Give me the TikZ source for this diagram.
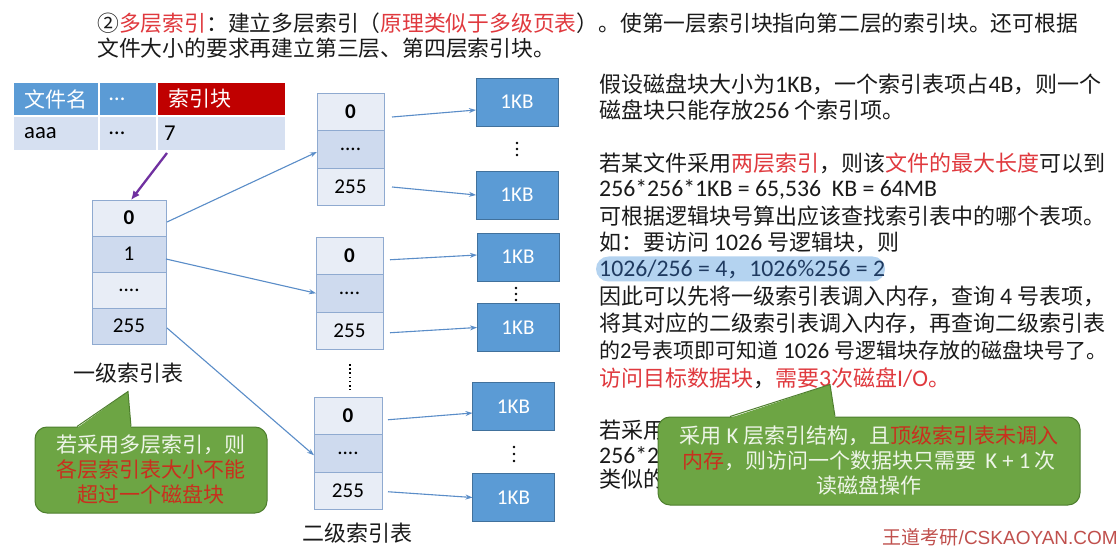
\documentclass[tikz,border=0pt]{standalone}
\usepackage{fontspec}
\setmainfont{Noto Sans CJK SC}
\newfontfamily\lat{Carlito}[Scale=1.08]
\newfontfamily\wmf{Liberation Sans}
\usetikzlibrary{arrows.meta,shapes.misc}
\newcommand\latn[1]{{\lat #1}}
\definecolor{hdrblue}{HTML}{5B9BD5}
\definecolor{hdrred}{HTML}{C00000}
\definecolor{rowlt}{HTML}{D6E0F1}
\definecolor{celllt}{HTML}{E8EDF6}
\definecolor{celldk}{HTML}{CEDAEE}
\definecolor{cellbd}{HTML}{8FAAD0}
\definecolor{blk}{HTML}{5B9BD5}
\definecolor{blkbd}{HTML}{41719C}
\definecolor{arr}{HTML}{5A8DC8}
\definecolor{txtred}{HTML}{E0393E}
\definecolor{bodyc}{HTML}{1A1A1A}
\definecolor{grn}{HTML}{6DA544}
\definecolor{grnbd}{HTML}{4E7F2E}
\definecolor{callred}{HTML}{C8301E}
\definecolor{calltxt}{HTML}{EEF5E8}
\definecolor{wmred}{HTML}{C0504D}
\definecolor{purp}{HTML}{7030A0}
\definecolor{hl}{HTML}{B4D3F0}
\definecolor{hltxt}{HTML}{1F3A60}
\begin{document}
\begin{tikzpicture}[x=1pt,y=-1pt,
  cellbox/.style={draw=cellbd, line width=0.8pt, inner sep=0pt, outer sep=0pt, font=\lat\fontsize{19.5}{19.5}\selectfont, text=black},
  blkbox/.style={draw=blkbd, fill=blk, line width=0.8pt, minimum width=82pt, minimum height=48pt, inner sep=0pt, outer sep=0pt, font=\lat\fontsize{19.5}{19.5}\selectfont, text=white},
  conn/.style={draw=arr, line width=1.1pt, -{Stealth[length=7pt,width=5pt]}},
  tcell/.style={draw=white, line width=2pt, inner sep=0pt, outer sep=0pt},
  ttext/.style={anchor=west, inner sep=0pt, font=\fontsize{21}{21}\selectfont},
  body/.style={anchor=west, inner sep=0pt, font=\fontsize{22}{26}\selectfont, text=bodyc},
  callbox/.style={draw=grnbd, fill=grn, line width=1pt, rounded corners=12pt, inner sep=0pt, align=center, text=calltxt, font=\fontsize{21}{25}\selectfont},
  lbl/.style={inner sep=0pt, font=\fontsize{22}{22}\selectfont, text=bodyc}
]
\useasboundingbox (0,0) rectangle (1120,548);
\fill[white] (0,0) rectangle (1120,548);

% title
\node[body, font=\fontsize{21.8}{26}\selectfont] (t1) at (97,23) {②\textcolor{txtred}{多层索引}：建立多层索引（\textcolor{txtred}{原理类似于多级页表}）。使第一层索引块指向第二层的索引块。还可根据};
\node[body, font=\fontsize{21.8}{26}\selectfont] (t2) at (97,48) {文件大小的要求再建立第三层、第四层索引块。};

% directory table
\node[tcell, fill=hdrblue, minimum width=86pt, minimum height=34pt] (h1) at (56,99) {};
\node[tcell, fill=hdrblue, minimum width=58pt, minimum height=34pt] (h2) at (128,99) {};
\node[tcell, fill=hdrred, minimum width=129pt, minimum height=34pt] (h3) at (221.5,99) {};
\node[tcell, fill=rowlt, minimum width=86pt, minimum height=35pt] (r1) at (56,133.5) {};
\node[tcell, fill=rowlt, minimum width=58pt, minimum height=35pt] (r2) at (128,133.5) {};
\node[tcell, fill=rowlt, minimum width=129pt, minimum height=35pt] (r3) at (221.5,133.5) {};
\node[ttext, text=white] (h1t) at ([xshift=11pt]h1.west) {文件名};
\node[ttext, text=white, font=\lat\fontsize{21}{21}\selectfont] (h2t) at ([xshift=10pt]h2.west) {…};
\node[ttext, text=white] (h3t) at ([xshift=11pt]h3.west) {索引块};
\node[ttext, text=black, font=\lat\fontsize{21}{21}\selectfont] (r1t) at ([xshift=11pt]r1.west) {aaa};
\node[ttext, text=black, font=\lat\fontsize{21}{21}\selectfont] (r2t) at ([xshift=10pt]r2.west) {…};
\node[ttext, text=black, font=\lat\fontsize{21}{21}\selectfont] (r3t) at ([xshift=7pt]r3.west) {7};

% first level table
\node[cellbox, fill=celllt, minimum width=74pt, minimum height=36pt] (p0) at (129,218) {\bfseries 0};
\node[cellbox, fill=celldk, minimum width=74pt, minimum height=36pt] (p1) at (129,254) {1};
\node[cellbox, fill=celllt, minimum width=74pt, minimum height=36pt] (p2) at (129,290) {....};
\node[cellbox, fill=celldk, minimum width=74pt, minimum height=36pt] (p3) at (129,326) {255};
\node[lbl] (l1) at (128,373) {一级索引表};

% second level tables
\node[cellbox, fill=celllt, minimum width=67pt, minimum height=37.5pt] (a0) at (350.5,112) {\bfseries 0};
\node[cellbox, fill=celldk, minimum width=67pt, minimum height=37.5pt] (a1) at (350.5,149.5) {....};
\node[cellbox, fill=celllt, minimum width=67pt, minimum height=37.5pt] (a2) at (350.5,187) {255};
\node[cellbox, fill=celllt, minimum width=67pt, minimum height=37.5pt] (b0) at (349.5,255.75) {\bfseries 0};
\node[cellbox, fill=celldk, minimum width=67pt, minimum height=37.5pt] (b1) at (349.5,293.25) {....};
\node[cellbox, fill=celllt, minimum width=67pt, minimum height=37.5pt] (b2) at (349.5,330.75) {255};
\node[cellbox, fill=celllt, minimum width=68pt, minimum height=37.5pt] (c0) at (348,415.75) {\bfseries 0};
\node[cellbox, fill=celldk, minimum width=68pt, minimum height=37.5pt] (c1) at (348,453.25) {....};
\node[cellbox, fill=celllt, minimum width=68pt, minimum height=37.5pt] (c2) at (348,490.75) {255};
\node[lbl] (l2) at (357,533) {二级索引表};
\draw[dash pattern=on 1.6pt off 2.6pt, line width=2pt] (350,364) -- (350,390);

% data blocks
\node[blkbox] (A0) at (517,102) {1KB};
\node[blkbox] (A1) at (517,195) {1KB};
\node[blkbox] (B0) at (518,257) {1KB};
\node[blkbox] (B1) at (518,327.5) {1KB};
\node[blkbox] (C0) at (513.5,406.5) {1KB};
\node[blkbox] (C1) at (513.5,497.5) {1KB};
\foreach \yy in {143,149,155} \fill (517,\yy) circle[radius=1.3pt];
\foreach \yy in {288,294,300} \fill (516,\yy) circle[radius=1.3pt];
\foreach \yy in {447,454,461} \fill (514,\yy) circle[radius=1.3pt];

% connectors
\draw[draw=purp, line width=2.3pt, -{Latex[length=9pt,width=8pt]}] ([shift={(10,2)}]r3.south west) -- ([shift={(2,0)}]p0.north);
\draw[conn] ([shift={(1,4)}]p0.east) -- ([shift={(0,2.5)}]a1.west);
\draw[conn] ([shift={(0,5)}]p1.east) -- (b1.west);
\draw[conn] ([shift={(1,2)}]p3.east) -- ([shift={(0,2)}]c1.west);
\draw[conn] ([shift={(8,5)}]a0.east) -- ([shift={(0,8)}]A0.west);
\draw[conn] ([shift={(8,0)}]a2.east) -- (A1.west);
\draw[conn] ([shift={(7,4)}]b0.east) -- ([shift={(0,-2)}]B0.west);
\draw[conn] ([shift={(7,2)}]b2.east) -- (B1.west);
\draw[conn] ([shift={(6,4)}]c0.east) -- ([shift={(0,6.5)}]C0.west);
\draw[conn] ([shift={(6,1)}]c2.east) -- (C1.west);

% right text
\node[body] (L1) at (599,84) {假设磁盘块大小为\latn{1KB}，一个索引表项占\latn{4B}，则一个};
\node[body] (L2) at (599,110) {磁盘块只能存放\latn{256} 个索引项。};
\node[body] (L3) at (599,163) {若某文件采用\textcolor{txtred}{两层索引}，则该\textcolor{txtred}{文件的最大长度}可以到};
\node[body] (L4) at (599,190) {\latn{256*256*1KB = 65,536 \ KB = 64MB}};
\node[body] (L5) at (599,216) {可根据逻辑块号算出应该查找索引表中的哪个表项。};
\node[body] (L6) at (599,242) {如：要访问 \latn{1026} 号逻辑块，则};
\node[rounded rectangle, fill=hl, minimum width=289pt, minimum height=25pt, inner sep=0pt] (hlt) at (740.5,269) {};
\node[body, text=hltxt] (L7) at (599,269) {\latn{1026/256 = 4}，\latn{1026\%256 = 2}};
\node[body] (L8) at (599,296) {因此可以先将一级索引表调入内存，查询 \latn{4} 号表项，};
\node[body] (L9) at (599,323) {将其对应的二级索引表调入内存，再查询二级索引表};
\node[body, font=\fontsize{21}{26}\selectfont] (L10) at (599,350) {的\latn{2}号表项即可知道 \latn{1026} 号逻辑块存放的磁盘块号了。};
\node[body] (L11) at (599,378) {\textcolor{txtred}{访问目标数据块}，\textcolor{txtred}{需要\latn{3}次磁盘\latn{I/O}。}};
\node[body] (L12) at (599,430) {若采用};
\node[body] (L13) at (599,455) {\latn{256*25}};
\node[body] (L14) at (599,479) {类似的};

% left callout
\node[callbox, minimum width=232pt, minimum height=86pt] (callL) at (151,470) {若采用多层索引，则\\\textcolor{callred}{各层索引表大小不能}\\\textcolor{callred}{超过一个磁盘块}};
\fill[grn] ([shift={(-74,1.5)}]callL.north) -- ([shift={(-23,-35)}]callL.north) -- ([shift={(-20,1.5)}]callL.north) -- cycle;
\draw[grnbd, line width=1pt] ([shift={(-74,0)}]callL.north) -- ([shift={(-23,-35)}]callL.north) -- ([shift={(-20,0)}]callL.north);

% right callout
\node[callbox, minimum width=422pt, minimum height=88pt] (callR) at (869,461) {采用 \latn{K} 层索引结构，且\textcolor{callred}{顶级索引表未调入}\\\textcolor{callred}{内存}，则访问一个数据块只需要 \ \latn{K + 1} 次\\读磁盘操作};
\fill[grn] ([shift={(-139,1.5)}]callR.north) -- ([shift={(-39,-32)}]callR.north) -- ([shift={(-34,1.5)}]callR.north) -- cycle;
\draw[grnbd, line width=1pt] ([shift={(-139,0)}]callR.north) -- ([shift={(-39,-32)}]callR.north) -- ([shift={(-34,0)}]callR.north);

% watermark
\node[anchor=east, inner sep=0pt, text=wmred, font=\fontsize{19}{19}\selectfont] (wm) at (1118,537) {王道考研{\wmf /CSKAOYAN.COM}};
\end{tikzpicture}
\end{document}
